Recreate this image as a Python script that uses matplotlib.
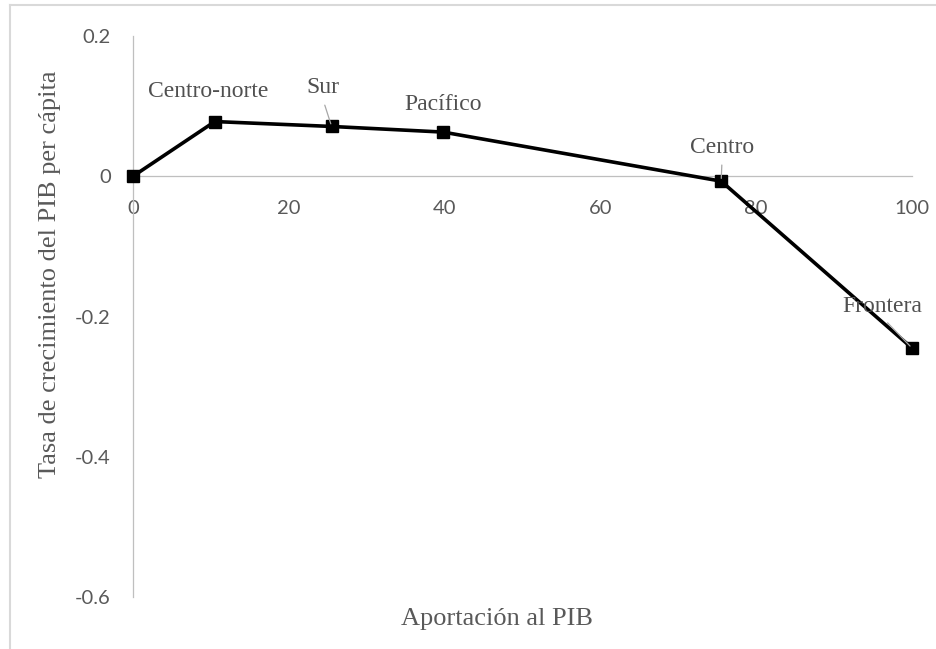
"""
Aportación al PIB vs tasa de crecimiento del PIB per cápita, por región.
"""
import matplotlib
matplotlib.use("Agg")
import matplotlib.pyplot as plt
from matplotlib.lines import Line2D

# data
aportacion = [0, 10.5, 25.5, 39.8, 75.5, 100]
tasa = [0, 0.078, 0.071, 0.063, -0.007, -0.245]
regiones = ["", "Centro-norte", "Sur", "Pacífico", "Centro", "Frontera"]
x_ticks = [0, 20, 40, 60, 80, 100]
y_ticks = [-0.6, -0.4, -0.2, 0, 0.2]
y_tick_labels = ["-0.6", "-0.4", "-0.2", "0", "0.2"]

GRAY_TXT = "#595959"
GRAY_AX = "#bfbfbf"
SERIF = "Liberation Serif"
SANS = "Lato"

# label placement (offset in points from the point), leader line or not
label_style = {
    "Centro-norte": ((-5, 18), False),
    "Sur": ((-6.5, 23.8), True),
    "Pacífico": ((0, 15.8), False),
    "Centro": ((0.7, 20.2), True),
    "Frontera": ((-21.6, 25.9), True),
}

W, H = 936, 649
fig = plt.figure(figsize=(W / 100, H / 100), dpi=100)
ax = fig.add_axes([133 / W, 1 - 597 / H, (912 - 133) / W, (597 - 36) / H])

ax.plot(aportacion, tasa, color="black", lw=2.6, marker="s", ms=8,
        clip_on=False, zorder=3)

ax.set_xlim(0, 100)
ax.set_ylim(-0.6, 0.2)

for side in ["top", "right"]:
    ax.spines[side].set_visible(False)
ax.spines["bottom"].set_position(("data", 0))
ax.spines["bottom"].set_color(GRAY_AX)
ax.spines["left"].set_color(GRAY_AX)
ax.spines["bottom"].set_linewidth(0.9)
ax.spines["left"].set_linewidth(0.9)

ax.set_xticks(x_ticks)
ax.set_xticklabels([str(v) for v in x_ticks])
ax.set_yticks(y_ticks)
ax.set_yticklabels(y_tick_labels)
ax.tick_params(axis="x", length=0, pad=17, labelsize=14.5, labelcolor=GRAY_TXT)
ax.tick_params(axis="y", length=0, pad=16, labelsize=14.5, labelcolor=GRAY_TXT)
for lab in ax.get_xticklabels() + ax.get_yticklabels():
    lab.set_family(SANS)

for xv, yv, name in zip(aportacion, tasa, regiones):
    if not name:
        continue
    offset, leader = label_style[name]
    arrow = None
    if leader:
        arrow = dict(arrowstyle="-", color="#a6a6a6", lw=0.9,
                     shrinkA=3, shrinkB=2, relpos=(0.5, 0))
    ax.annotate(name, xy=(xv, yv), xytext=offset, textcoords="offset points",
                ha="center", va="baseline", fontsize=17, family=SERIF,
                color="#505050", arrowprops=arrow, annotation_clip=False)

fig.text(50 / W, 1 - 274 / H, "Tasa de crecimiento del PIB per cápita",
         rotation=90, ha="center", va="center", fontsize=19, family=SERIF,
         color=GRAY_TXT)
fig.text(497 / W, 24 / H, "Aportación al PIB", ha="center", va="baseline",
         fontsize=19, family=SERIF, color=GRAY_TXT)

# outer chart frame (only top and left edges are visible)
fig.add_artist(Line2D([9.5 / W, 1], [1 - 5 / H, 1 - 5 / H],
                      color="#d9d9d9", lw=1.5))
fig.add_artist(Line2D([9.5 / W, 9.5 / W], [0, 1 - 5 / H],
                      color="#d9d9d9", lw=1.5))

fig.savefig("out.png", dpi=100)
